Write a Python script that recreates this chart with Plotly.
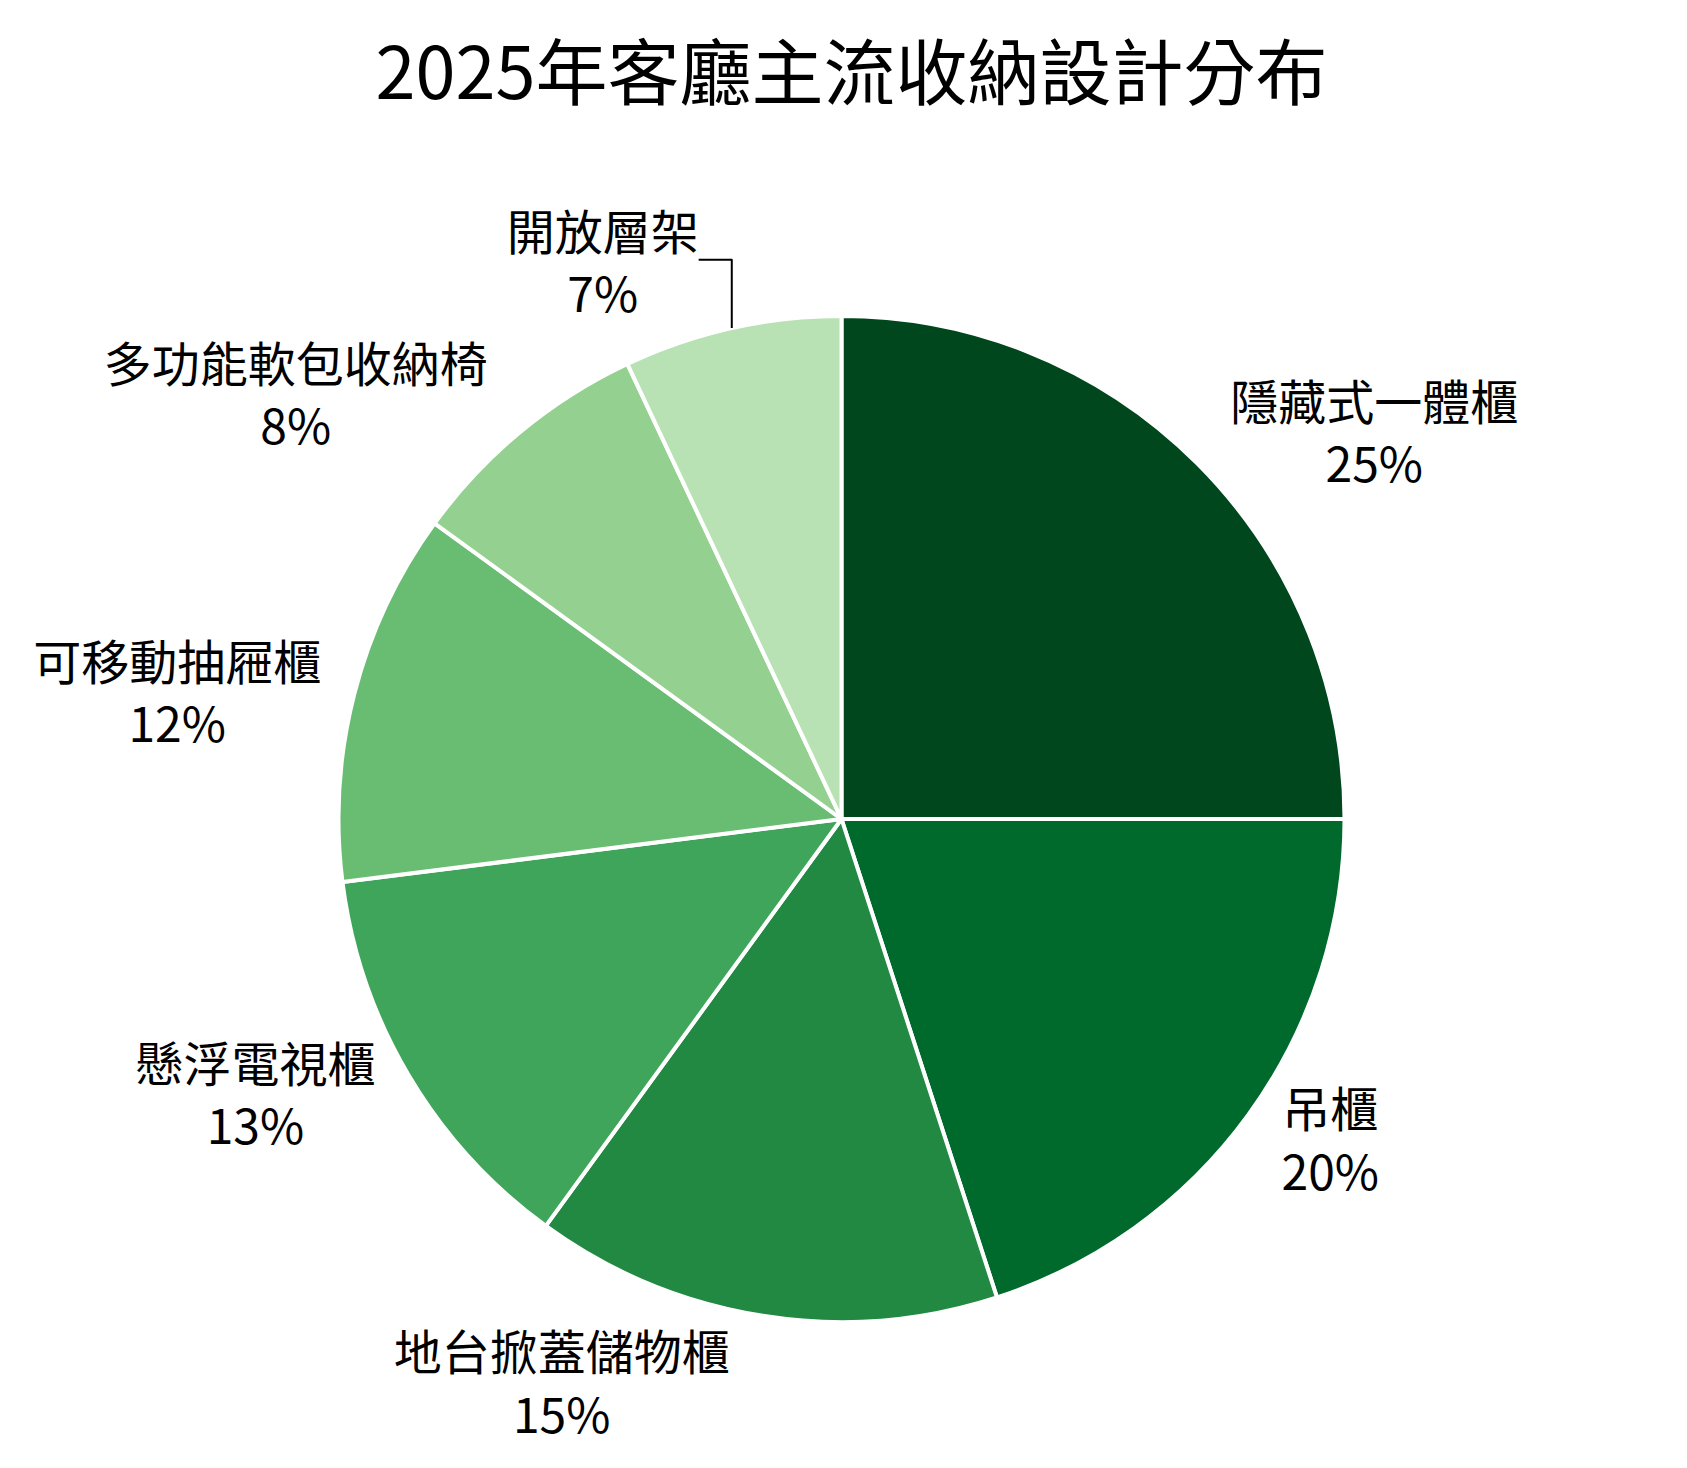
import plotly.graph_objects as go

labels = ["隱藏式一體櫃", "吊櫃", "地台掀蓋儲物櫃", "懸浮電視櫃", "可移動抽屜櫃", "多功能軟包收納椅", "開放層架"]
values = [25, 20, 15, 13, 12, 8, 7]
colors = ["#00471d", "#006a2d", "#218942", "#3fa55b", "#69bd72", "#94d190", "#b9e2b4"]

fig = go.Figure(go.Pie(
    labels=labels, values=values, sort=False, direction="clockwise", rotation=0,
    marker=dict(colors=colors, line=dict(color="white", width=4)),
    texttemplate="%{label}<br>%{percent:.0%}", textposition="outside",
    textfont=dict(size=48, color="black"), showlegend=False,
))
fig.update_layout(
    title=dict(text="2025年客廳主流收納設計分布", x=0.5, y=0.955, xanchor="center", yanchor="middle",
               font=dict(size=72, color="black")),
    font=dict(family="Noto Sans CJK TC"),
    width=1687, height=1468, paper_bgcolor="white",
    margin=dict(l=320, r=340, t=308, b=154),
)
fig.write_html("out.html")
